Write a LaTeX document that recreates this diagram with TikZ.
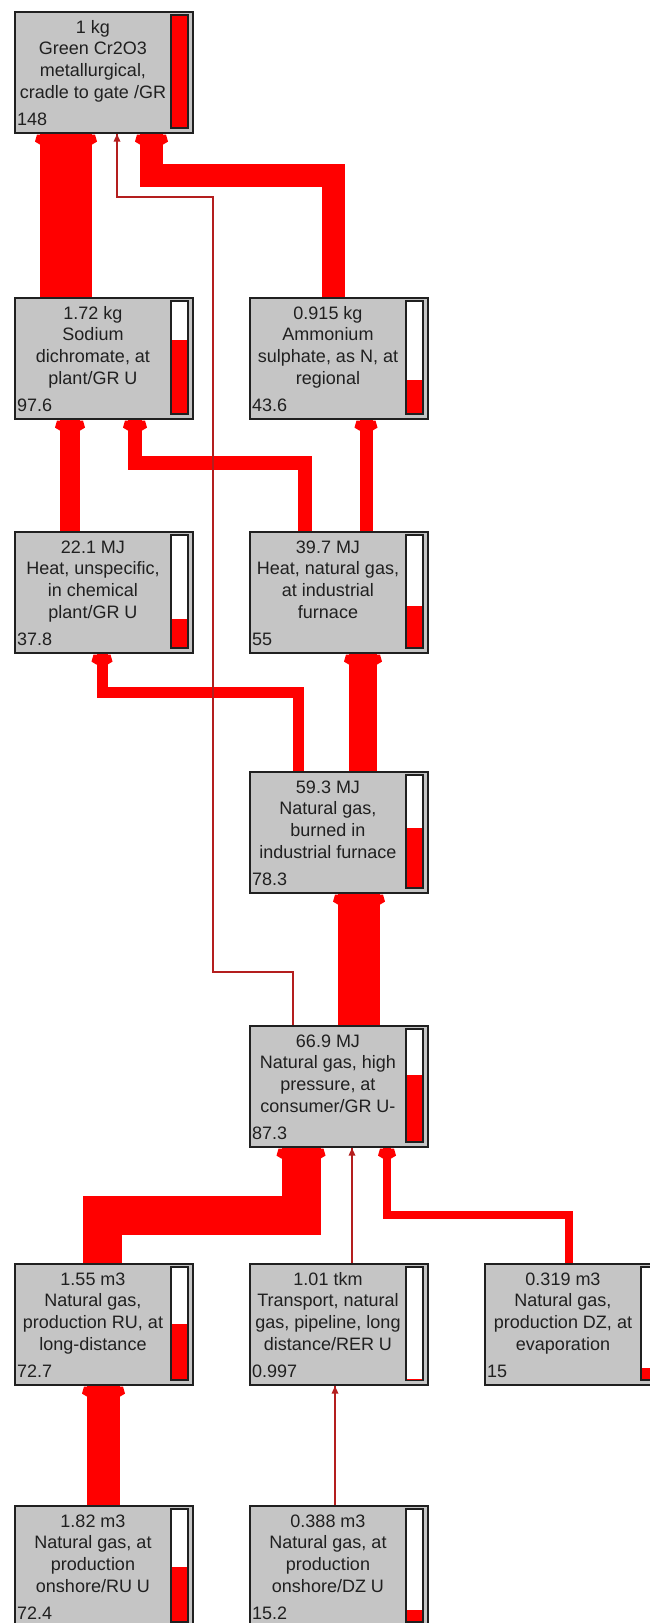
\documentclass[tikz,border=0pt]{standalone}
\usepackage{fontspec}
\setmainfont{Liberation Sans}
\usetikzlibrary{calc}

\definecolor{boxgray}{RGB}{197,197,197}
\definecolor{flowred}{RGB}{255,0,0}
\definecolor{wirered}{RGB}{180,30,30}
\definecolor{inkgray}{RGB}{32,32,32}

\pgfdeclarelayer{flows}
\pgfsetlayers{flows,main}

\tikzset{
  procbox/.style={rectangle, draw=inkgray, line width=1.6pt, fill=boxgray,
    minimum width=178pt, minimum height=121pt, inner sep=0pt, anchor=north west},
  proctext/.style={anchor=north, align=center, inner sep=0pt, text=inkgray,
    font=\fontsize{18}{21.7}\selectfont},
  procscore/.style={anchor=base west, inner sep=0pt, text=inkgray,
    font=\fontsize{18}{21.7}\selectfont},
  barframe/.style={draw=inkgray, line width=1.4pt, fill=white},
  flow/.style={draw=flowred, line join=miter, line cap=butt},
  wire/.style={draw=wirered, line width=1.3pt},
}

% process box: name, left, top, score, amount, description lines
\newcommand\procnode[6]{%
  \node[procbox] (#1) at (#2,#3) {};
  \draw[barframe] ({#2+157},{#3+4}) rectangle ({#2+174},{#3+117});
  \fill[flowred] ({#2+157.7},{#3+116.3}) rectangle ({#2+173.3},{#3+116.3-#4/148*111.6});
  \node[proctext] (#1-text) at ({#2+79},{#3+7}) {\rule{0pt}{15pt}#5\\#6};
  \node[procscore] (#1-score) at ({#2+3},{#3+114}) {#4};
}

% arrow head of a wide flow, at the bottom of the receiving box
\newcommand\flowhead[2]{%
  \fill[flowred, shift={(#1)}] ({-#2/2},11) -- ({-#2/2-5},8) -- ({-#2/2-3},1)
    -- ({#2/2+3},1) -- ({#2/2+5},8) -- ({#2/2},11) -- cycle;}
% arrow head of a thin wire
\newcommand\wirehead[1]{%
  \fill[wirered, shift={(#1)}] (0,0.5) -- (-3.5,8) -- (3.5,8) -- cycle;}

\begin{document}
\begin{tikzpicture}[x=1pt, y=-1pt]
\useasboundingbox (0,0) rectangle (649,1623);

% process boxes
\procnode{A}{14}{11}{148}{1 kg}{Green Cr2O3\\metallurgical,\\cradle to gate /GR}
\procnode{B}{14}{297}{97.6}{1.72 kg}{Sodium\\dichromate, at\\plant/GR U}
\procnode{C}{249}{297}{43.6}{0.915 kg}{Ammonium\\sulphate, as N, at\\regional}
\procnode{D}{14}{531}{37.8}{22.1 MJ}{Heat, unspecific,\\in chemical\\plant/GR U}
\procnode{E}{249}{531}{55}{39.7 MJ}{Heat, natural gas,\\at industrial\\furnace}
\procnode{F}{249}{771}{78.3}{59.3 MJ}{Natural gas,\\burned in\\industrial furnace}
\procnode{G}{249}{1025}{87.3}{66.9 MJ}{Natural gas, high\\pressure, at\\consumer/GR U-}
\procnode{H}{14}{1263}{72.7}{1.55 m3}{Natural gas,\\production RU, at\\long-distance}
\procnode{I}{249}{1263}{0.997}{1.01 tkm}{Transport, natural\\gas, pipeline, long\\distance/RER U}
\procnode{J}{484}{1263}{15}{0.319 m3}{Natural gas,\\production DZ, at\\evaporation}
\procnode{K}{14}{1505}{72.4}{1.82 m3}{Natural gas, at\\production\\onshore/RU U}
\procnode{L}{249}{1505}{15.2}{0.388 m3}{Natural gas, at\\production\\onshore/DZ U}

% ports on the boxes
\coordinate (A-in1) at ([xshift=52pt]A.south west);
\coordinate (A-in2) at ([xshift=137.5pt]A.south west);
\coordinate (A-in3) at ([xshift=103pt]A.south west);
\coordinate (B-out) at ([xshift=52pt]B.north west);
\coordinate (B-in1) at ([xshift=56pt]B.south west);
\coordinate (B-in2) at ([xshift=121pt]B.south west);
\coordinate (C-out) at ([xshift=84.5pt]C.north west);
\coordinate (C-in)  at ([xshift=117pt]C.south west);
\coordinate (D-out) at ([xshift=56pt]D.north west);
\coordinate (D-in)  at ([xshift=88pt]D.south west);
\coordinate (E-out1) at ([xshift=56pt]E.north west);
\coordinate (E-out2) at ([xshift=117pt]E.north west);
\coordinate (E-in)  at ([xshift=114pt]E.south west);
\coordinate (F-out1) at ([xshift=49pt]F.north west);
\coordinate (F-out2) at ([xshift=114pt]F.north west);
\coordinate (F-in)  at ([xshift=110pt]F.south west);
\coordinate (G-out1) at ([xshift=110pt]G.north west);
\coordinate (G-out2) at ([xshift=44pt]G.north west);
\coordinate (G-in1) at ([xshift=52pt]G.south west);
\coordinate (G-in2) at ([xshift=103pt]G.south west);
\coordinate (G-in3) at ([xshift=138pt]G.south west);
\coordinate (H-out) at ([xshift=88pt]H.north west);
\coordinate (H-in)  at ([xshift=89.5pt]H.south west);
\coordinate (I-out) at ([xshift=103pt]I.north west);
\coordinate (I-in)  at ([xshift=86pt]I.south west);
\coordinate (J-out) at ([xshift=85pt]J.north west);
\coordinate (K-out) at ([xshift=89.5pt]K.north west);
\coordinate (L-out) at ([xshift=86pt]L.north west);

% routing levels
\coordinate (lv-ac) at (0,175);
\coordinate (lv-be) at (0,463);
\coordinate (lv-df) at (0,692);
\coordinate (lv-gh) at (0,1215);
\coordinate (ag-1) at (213,972);
\coordinate (ag-2) at (213,197);

\begin{pgfonlayer}{flows}
  \fill[white] (0,0) rectangle (649,1623);
  % wide flows
  \draw[flow, line width=52pt] (B-out) -- (A-in1);
  \draw[flow, line width=23pt] (C-out) -- (C-out |- lv-ac) -- (A-in2 |- lv-ac) -- (A-in2);
  \draw[flow, line width=20pt] (D-out) -- (B-in1);
  \draw[flow, line width=14pt] (E-out1) -- (E-out1 |- lv-be) -- (B-in2 |- lv-be) -- (B-in2);
  \draw[flow, line width=13pt] (E-out2) -- (C-in);
  \draw[flow, line width=11pt] (F-out1) -- (F-out1 |- lv-df) -- (D-in |- lv-df) -- (D-in);
  \draw[flow, line width=28pt] (F-out2) -- (E-in);
  \draw[flow, line width=42pt] (G-out1) -- (F-in);
  \draw[flow, line width=39pt] (H-out) -- (H-out |- lv-gh) -- (G-in1 |- lv-gh) -- (G-in1);
  \draw[flow, line width=8pt] (J-out) -- (J-out |- lv-gh) -- (G-in3 |- lv-gh) -- (G-in3);
  \draw[flow, line width=33pt] (K-out) -- (H-in);
  \flowhead{A-in1}{52}
  \flowhead{A-in2}{23}
  \flowhead{B-in1}{20}
  \flowhead{B-in2}{14}
  \flowhead{C-in}{13}
  \flowhead{D-in}{11}
  \flowhead{E-in}{28}
  \flowhead{F-in}{42}
  \flowhead{G-in1}{39}
  \flowhead{G-in3}{8}
  \flowhead{H-in}{33}
  % thin flows
  \draw[wire] (G-out2) |- (ag-1) -- (ag-2) -| (A-in3);
  \draw[wire] (I-out) -- (G-in2);
  \draw[wire] (L-out) -- (I-in);
  \wirehead{A-in3}
  \wirehead{G-in2}
  \wirehead{I-in}
\end{pgfonlayer}
\end{tikzpicture}
\end{document}
